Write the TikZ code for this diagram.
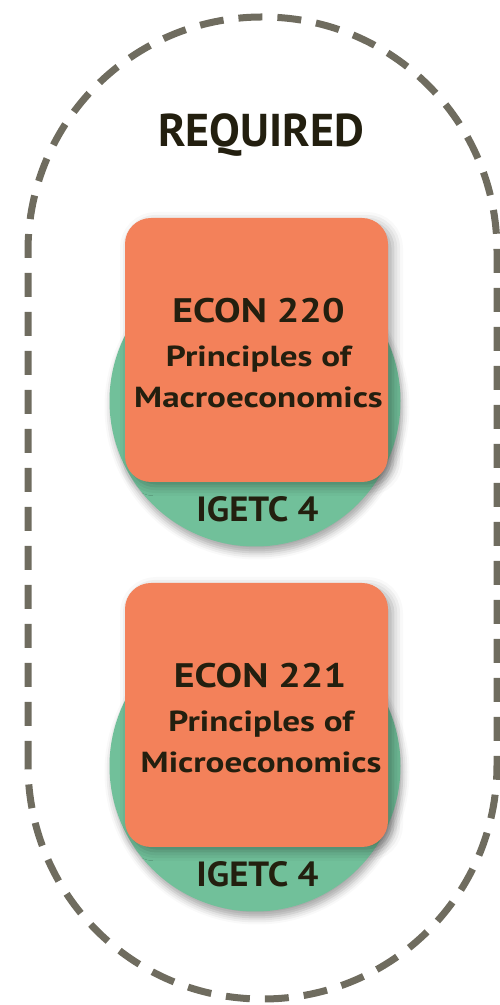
\documentclass[tikz,border=0pt]{standalone}
\usepackage{fontspec}
\setmainfont{PT Sans}
\newfontfamily\codefont[FakeStretch=1.17]{PT Sans}
\newfontfamily\titlefont[FakeStretch=1.21]{PT Sans}
\newfontfamily\tagfont[FakeStretch=1.05]{PT Sans}
\usetikzlibrary{shadows.blur}

\definecolor{dashgray}{HTML}{6F6C5F}
\definecolor{coursebg}{HTML}{F3815A}
\definecolor{igetcbg}{HTML}{71C09A}
\definecolor{inktext}{HTML}{231F0F}

\begin{document}
\begin{tikzpicture}[x=1pt,y=1pt,
    group/.style={draw=dashgray,line width=7pt,dash pattern=on 24pt off 15pt},
    igetc/.style={circle,fill=igetcbg,minimum size=291pt,inner sep=0pt,
      blur shadow={shadow xshift=2pt,shadow yshift=-6pt,shadow blur radius=7pt,shadow opacity=35}},
    course/.style={rectangle,rounded corners=26pt,fill=coursebg,minimum width=263pt,
      minimum height=264pt,inner sep=0pt,
      blur shadow={shadow xshift=5pt,shadow yshift=-4pt,shadow blur radius=10pt,shadow opacity=35}},
    heading/.style={anchor=base,text=inktext,font=\bfseries\fontsize{46}{46}\selectfont},
    code/.style={anchor=base,text=inktext,font=\codefont\bfseries\fontsize{34}{34}\selectfont},
    title/.style={anchor=base,text=inktext,font=\titlefont\bfseries\fontsize{29}{29}\selectfont},
    tag/.style={anchor=base,text=inktext,font=\tagfont\bfseries\fontsize{35}{35}\selectfont}]
  \useasboundingbox (0,0) rectangle (499,1005);

  % dashed outline round the required courses
  \draw[group,rounded corners=234pt] (28,6) rectangle (497,988);
  \node[heading] (required) at (261,858) {REQUIRED};

  % ECON 220
  \node[igetc] (ring220) at (255,604) {};
  \node[course] (econ220) at (256.5,655) {};
  \node[code] (code220) at (258.5,682) {ECON 220};
  \node[title] (name220a) at (258.5,638) {Principles of};
  \node[title] (name220b) at (258.5,597) {Macroeconomics};
  \node[tag] (tag220) at (257.5,483) {IGETC 4};

  % ECON 221
  \node[igetc] (ring221) at (255,239) {};
  \node[course] (econ221) at (256.5,290) {};
  \node[code] (code221) at (260,317) {ECON 221};
  \node[title] (name221a) at (261,273) {Principles of};
  \node[title] (name221b) at (261,232) {Microeconomics};
  \node[tag] (tag221) at (257.5,118) {IGETC 4};
\end{tikzpicture}
\end{document}
